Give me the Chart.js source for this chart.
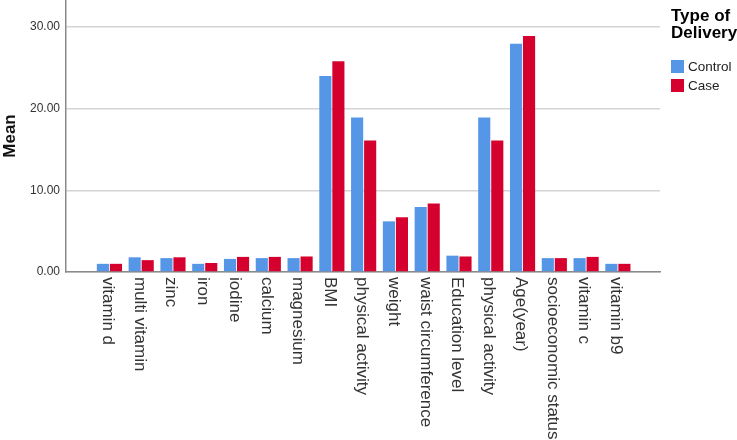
<!DOCTYPE html>
<html>
<head>
<meta charset="utf-8">
<script src="https://cdn.jsdelivr.net/npm/chart.js@4"></script>
<style>
  body { margin: 0; background: #fff; }
  #wrap { position: relative; width: 737px; height: 440px; }
  #legend { position: absolute; left: 671px; top: 8px; font-family: "Liberation Sans", Arial, sans-serif; color: #000; }
  #legend .title { font-weight: bold; font-size: 17px; line-height: 16.5px; margin-bottom: 16px; white-space: nowrap; }
  #legend .item { display: flex; align-items: center; font-size: 13.5px; height: 19px; color: #222; }
  #legend .box { width: 13px; height: 13px; margin-right: 4px; }
</style>
</head>
<body>
<div id="wrap">
  <canvas id="chart" width="737" height="440"></canvas>
  <div id="legend"></div>
</div>
<script>
const categories = ['vitamin d', 'multi vitamin', 'zinc', 'iron', 'iodine', 'calcium', 'magnesium', 'BMI',
  'physical activity', 'weight', 'waist circumference', 'Education level', 'physical activity',
  'Age(year)', 'socioeconomic status', 'vitamin c', 'vitamin b9'];
const controlValues = [1.0, 1.8, 1.7, 1.0, 1.6, 1.7, 1.7, 24.0, 18.9, 6.2, 7.95, 2.0, 18.9, 27.95, 1.7, 1.7, 1.0];
const caseValues = [1.0, 1.45, 1.8, 1.1, 1.85, 1.85, 1.9, 25.8, 16.1, 6.7, 8.4, 1.9, 16.1, 28.9, 1.7, 1.85, 1.0];
const seriesNames = ['Control', 'Case'];
const yTicks = [0, 10, 20, 30];
const legendTitle = ['Type of', 'Delivery'];

const colors = ['#5596e6', '#d6002f'];
const FONT = '"Liberation Sans", Arial, sans-serif';

// SPSS leaves a gap between the axis and the first/last category
const X_START = -1.366;
const X_END = 17.325;

// labels read top-to-bottom under each bar pair
const xLabels = {
  id: 'xLabels',
  afterDraw(c) {
    const x = c.scales.x;
    const ctx = c.ctx;
    ctx.save();
    ctx.font = '17px ' + FONT;
    ctx.fillStyle = '#333';
    ctx.textAlign = 'left';
    ctx.textBaseline = 'middle';
    categories.forEach((name, i) => {
      ctx.save();
      ctx.translate(x.getPixelForValue(i) - 2, x.top + 5);
      ctx.rotate(Math.PI / 2);
      ctx.fillText(name, 0, 0);
      ctx.restore();
    });
    ctx.restore();
  }
};

const ctx = document.getElementById('chart').getContext('2d');
new Chart(ctx, {
  type: 'bar',
  data: {
    labels: categories,
    datasets: [controlValues, caseValues].map((vals, k) => ({
      label: seriesNames[k],
      data: vals,
      backgroundColor: colors[k],
      borderWidth: 0,
      categoryPercentage: 0.82,
      barPercentage: 0.93,
    }))
  },
  options: {
    responsive: false,
    animation: false,
    layout: { padding: { left: 0, top: 0, right: 77, bottom: 0 } },
    plugins: { legend: { display: false }, tooltip: { enabled: false } },
    scales: {
      x: {
        ticks: { display: false },
        grid: { display: false, drawTicks: false },
        border: { display: true, color: '#8a8a8a', width: 1.5 },
        afterBuildTicks: s => {
          s._startValue = X_START;
          s._valueRange = X_END - X_START;
        },
        afterFit: s => {
          s.height = 168;
          s.paddingLeft = 0;
          s.paddingRight = 0;
        }
      },
      y: {
        min: 0,
        max: 33.3,
        afterBuildTicks: s => { s.ticks = yTicks.map(v => ({ value: v })); },
        ticks: {
          padding: 6,
          color: '#333',
          font: { family: FONT, size: 12 },
          callback: v => v.toFixed(2)
        },
        grid: { color: '#d4d4d4', lineWidth: 1.5, drawTicks: false },
        border: { display: true, color: '#8a8a8a', width: 1.5 },
        title: {
          display: true,
          text: 'Mean',
          color: '#111',
          padding: 0,
          font: { family: FONT, size: 17, weight: 'bold' }
        },
        afterFit: s => {
          s.width = 66;
          s.paddingTop = 0;
          s.paddingBottom = 0;
        }
      }
    }
  },
  plugins: [xLabels]
});

const legend = document.getElementById('legend');
legend.innerHTML = '<div class="title">' + legendTitle.join('<br>') + '</div>' +
  seriesNames.map((n, k) =>
    '<div class="item"><span class="box" style="background:' + colors[k] + '"></span>' + n + '</div>'
  ).join('');
</script>
</body>
</html>
